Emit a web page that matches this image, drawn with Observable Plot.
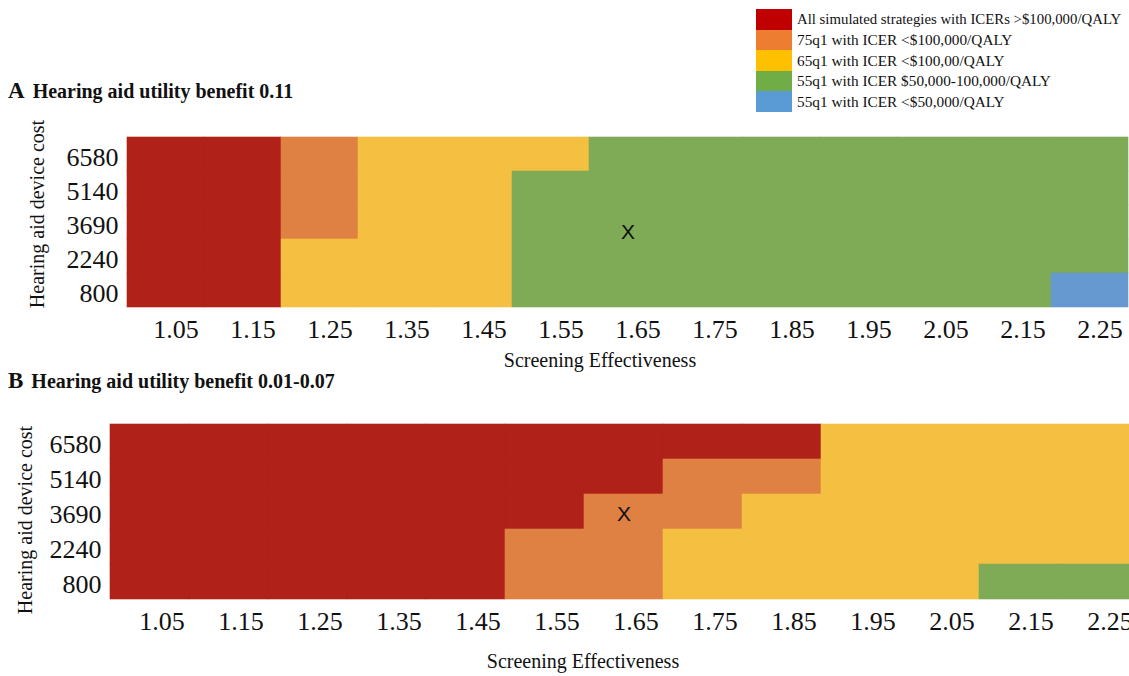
<!DOCTYPE html>
<html>
<head>
<meta charset="utf-8">
<script src="https://cdn.jsdelivr.net/npm/d3@7"></script>
<script src="https://cdn.jsdelivr.net/npm/@observablehq/plot@0.6"></script>
<style>
  html, body { margin: 0; padding: 0; background: #fff; overflow: hidden; }
  #root { position: relative; width: 1129px; height: 676px; overflow: hidden; font-family: "Liberation Serif", "Times New Roman", serif; color: #111; }
  .abs { position: absolute; white-space: nowrap; }
  .title { line-height: 1; font-weight: bold; }
  .title .letter { font-size: 23px; margin-right: 8px; }
  .title .txt { font-size: 20px; }
  .ylab { font-size: 20px; line-height: 1; transform: translate(-50%, -50%) rotate(-90deg); }
  .xlab { font-size: 20px; line-height: 1; transform: translateX(-50%); }
  .legend .row { display: flex; align-items: center; height: 20.6px; }
  .legend .sw { width: 36px; height: 20.6px; margin-right: 5px; }
  .legend .lt { font-size: 15.3px; line-height: 1; }
  .plotwrap { position: absolute; left: 0; width: 1200px; }
  .plotwrap svg { max-width: none !important; }
</style>
</head>
<body>
<div id="root"></div>
<script>
// ---------- data ----------
const xValues = [1.05, 1.15, 1.25, 1.35, 1.45, 1.55, 1.65, 1.75, 1.85, 1.95, 2.05, 2.15, 2.25];
const costs = [6580, 5140, 3690, 2240, 800];
const categories = [
  "All simulated strategies with ICERs >$100,000/QALY",
  "75q1 with ICER <$100,000/QALY",
  "65q1 with ICER <$100,00/QALY",
  "55q1 with ICER $50,000-100,000/QALY",
  "55q1 with ICER <$50,000/QALY"
];
const heatColors = ["#AF2119", "#E08144", "#F5C042", "#7FAB56", "#6699D0"];
const legendColors = ["#C00000", "#ED7D31", "#FFC000", "#70AD47", "#5B9BD5"];
// category index per cell, rows follow costs, columns follow xValues
const gridA = [
  [0, 0, 1, 2, 2, 2, 3, 3, 3, 3, 3, 3, 3],
  [0, 0, 1, 2, 2, 3, 3, 3, 3, 3, 3, 3, 3],
  [0, 0, 1, 2, 2, 3, 3, 3, 3, 3, 3, 3, 3],
  [0, 0, 2, 2, 2, 3, 3, 3, 3, 3, 3, 3, 3],
  [0, 0, 2, 2, 2, 3, 3, 3, 3, 3, 3, 3, 4]
];
const gridB = [
  [0, 0, 0, 0, 0, 0, 0, 0, 0, 2, 2, 2, 2],
  [0, 0, 0, 0, 0, 0, 0, 1, 1, 2, 2, 2, 2],
  [0, 0, 0, 0, 0, 0, 1, 1, 2, 2, 2, 2, 2],
  [0, 0, 0, 0, 0, 1, 1, 2, 2, 2, 2, 2, 2],
  [0, 0, 0, 0, 0, 1, 1, 2, 2, 2, 2, 3, 3]
];
const markerA = [{x: 1.65, cost: 3690}];
const markerB = [{x: 1.65, cost: 3690}];
const titleA = ["A", "Hearing aid utility benefit 0.11"];
const titleB = ["B", "Hearing aid utility benefit 0.01-0.07"];
const xLabel = "Screening Effectiveness";
const yLabel = "Hearing aid device cost";

// ---------- helpers ----------
const root = document.getElementById("root");
const SERIF = "'Liberation Serif', 'Times New Roman', serif";
function toCells(grid) {
  return grid.flatMap((row, i) => row.map((c, j) => ({x: xValues[j], cost: costs[i], cat: categories[c]})));
}
function panel({grid, marker, width, marginLeft, marginTop, plotHeight, marginBottom, tickPadding, tickDx, markerDy}) {
  return Plot.plot({
    width,
    height: marginTop + plotHeight + marginBottom,
    marginLeft, marginRight: 0, marginTop, marginBottom,
    style: {background: "transparent", fontFamily: SERIF, fontSize: "26px", overflow: "visible", color: "#111", maxWidth: "none"},
    x: {type: "band", domain: xValues, padding: 0},
    y: {type: "band", domain: costs, padding: 0},
    color: {type: "ordinal", domain: categories, range: heatColors},
    marks: [
      Plot.cell(toCells(grid), {x: "x", y: "cost", fill: "cat", stroke: "cat", strokeWidth: 0.6, inset: 0}),
      Plot.text(marker, {x: "x", y: "cost", text: () => "X", fontFamily: "'Liberation Sans', Arial, sans-serif", fontSize: 21, dy: markerDy, fill: "#111"}),
      Plot.axisX({tickSize: 0, tickPadding, dx: tickDx, fontSize: 26, fontFamily: SERIF, tickFormat: d => d.toFixed(2), label: null, fill: "#111"}),
      Plot.axisY({tickSize: 0, tickPadding: 7, dy: 3, fontSize: 26, fontFamily: SERIF, tickFormat: d => String(d), label: null, fill: "#111"})
    ]
  });
}
function addPlot(svg, top) {
  const w = document.createElement("div");
  w.className = "plotwrap";
  w.style.top = top + "px";
  svg.style.maxWidth = "none";
  w.appendChild(svg);
  root.appendChild(w);
}
function addDiv(cls, html, styles) {
  const d = document.createElement("div");
  d.className = "abs " + cls;
  d.innerHTML = html;
  Object.assign(d.style, styles);
  root.appendChild(d);
  return d;
}
const esc = s => s.replace(/&/g, "&amp;").replace(/</g, "&lt;").replace(/>/g, "&gt;");

// ---------- panels ----------
addPlot(panel({grid: gridA, marker: markerA, width: 1129, marginLeft: 125, marginTop: 135, plotHeight: 174, marginBottom: 40, tickPadding: 10.5, tickDx: 10, markerDy: 10}), 0);
addPlot(panel({grid: gridB, marker: markerB, width: 1138, marginLeft: 108, marginTop: 42, plotHeight: 178, marginBottom: 40, tickPadding: 11.5, tickDx: 12, markerDy: 2}), 380);

// ---------- titles & labels ----------
addDiv("title", `<span class="letter">${titleA[0]}</span><span class="txt">${esc(titleA[1])}</span>`, {left: "8px", top: "78.6px"});
addDiv("title", `<span class="letter">${titleB[0]}</span><span class="txt">${esc(titleB[1])}</span>`, {left: "8px", top: "368.6px"});
addDiv("ylab", esc(yLabel), {left: "37px", top: "214px"});
addDiv("ylab", esc(yLabel), {left: "25px", top: "520px"});
addDiv("xlab", esc(xLabel), {left: "600px", top: "350px"});
addDiv("xlab", esc(xLabel), {left: "583px", top: "651px"});

// ---------- legend ----------
const legendHtml = categories.map((c, i) =>
  `<div class="row"><div class="sw" style="background:${legendColors[i]}"></div><div class="lt" style="${i === 0 ? 'font-size:14.8px' : ''}">${esc(c)}</div></div>`
).join("");
addDiv("legend", legendHtml, {left: "756px", top: "9px"});
</script>
</body>
</html>
